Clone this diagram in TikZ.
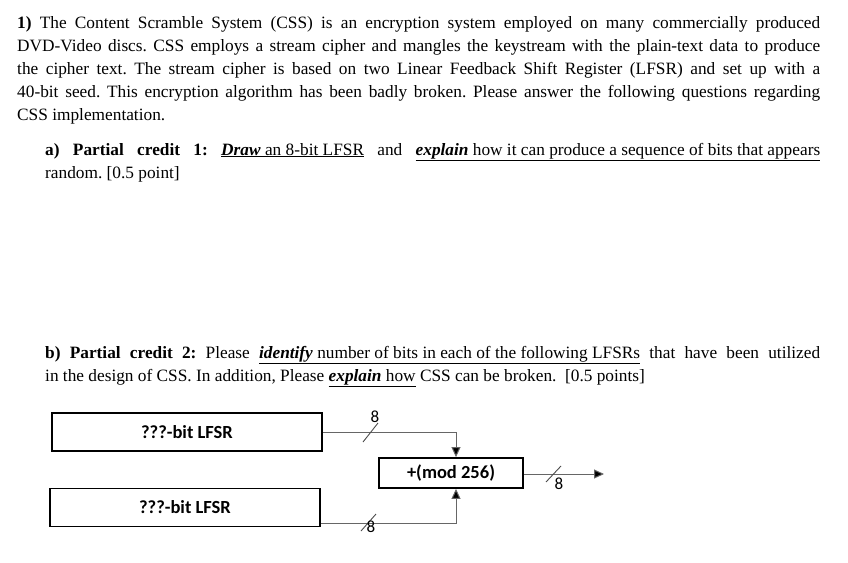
\documentclass[tikz,border=0pt]{standalone}
\usepackage{fontspec}
\setmainfont{Liberation Serif}
\newfontfamily\calfnt{Carlito}
\usetikzlibrary{arrows.meta}
\newcommand{\jl}[2]{\makebox[#1][s]{#2}}
\frenchspacing
\begin{document}
\begin{tikzpicture}[x=1pt,y=-1pt,
  t/.style={anchor=base west,inner sep=0,font=\fontsize{17.3}{23}\selectfont},
  blk/.style={draw,line width=1.8pt,font=\calfnt\bfseries\fontsize{18.5}{20}\selectfont,inner sep=0},
  wire/.style={draw=black!60,line width=1pt},
  arr/.style={wire,-{Triangle[length=10pt,width=9pt,fill=black]}},
  sl/.style={draw=black!70,line width=0.9pt},
  lab/.style={font=\calfnt\fontsize{17}{18}\selectfont,inner sep=0}]
\useasboundingbox (0,0) rectangle (848,562);
\node[t] (l1) at (17,28) {\jl{803pt}{\textbf{1)} The Content Scramble System (CSS) is an encryption system employed on many commercially produced}};
\node[t] (l2) at (17,51) {\jl{803pt}{DVD-Video discs. CSS employs a stream cipher and mangles the keystream with the plain-text data to produce}};
\node[t] (l3) at (17,74) {\jl{803pt}{the cipher text. The stream cipher is based on two Linear Feedback Shift Register (LFSR) and set up with a}};
\node[t] (l4) at (17,97) {\jl{803pt}{40-bit seed. This encryption algorithm has been badly broken. Please answer the following questions regarding}};
\node[t] (l5) at (17,120) {CSS implementation.};
\node[t] (a1) at (45,155) {\jl{775pt}{\textbf{a) Partial credit 1:} \underline{\textbf{\textit{Draw}} an 8-bit LFSR} and \underline{\textbf{\textit{explain}} how it can produce a sequence of bits that appears}}};
\node[t] (a2) at (45,178) {random. [0.5 point]};
\node[t] (b1) at (45,358) {\jl{775pt}{\textbf{b) Partial credit 2:} Please \underline{\textbf{\textit{identify}} number of bits in each of the following LFSRs} that have been utilized}};
\node[t] (b2) at (45,381) {in the design of CSS. In addition, Please \underline{\textbf{\textit{explain}} how} CSS can be broken.\ \ [0.5 points]};
\node[blk,minimum width=270pt,minimum height=38pt] (L1) at (187,432) {???-bit LFSR};
\node[blk,minimum width=270pt,minimum height=38pt] (L2) at (185,507.5) {???-bit LFSR};
\node[blk,minimum width=144pt,minimum height=30pt] (M) at (451,473) {+(mod 256)};
\coordinate (c1) at (456,432);
\coordinate (c2) at (456,523);
\coordinate (o) at (604,474);
\draw[arr] (L1.east) -- (c1) -- (c1 |- M.north);
\draw[arr] (L2.east |- c2) -- (c2) -- (c2 |- M.south);
\draw[arr] (M.east |- o) -- (o);
\draw[sl] (363,442) -- (378,423); \node[lab] at (375,417) {8};
\draw[sl] (361,531) -- (376,514); \node[lab] at (371,527) {8};
\draw[sl] (546,482) -- (561,466); \node[lab] at (559,484) {8};
\end{tikzpicture}
\end{document}
